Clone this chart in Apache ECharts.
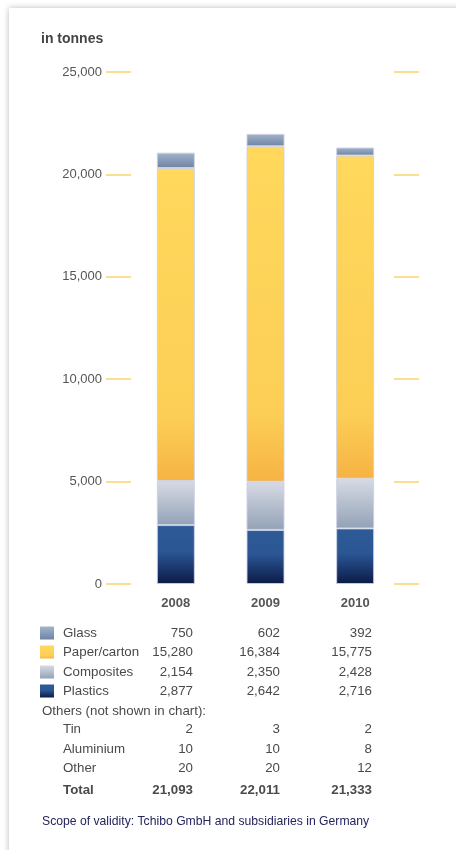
<!DOCTYPE html>
<html>
<head>
<meta charset="utf-8">
<script src="https://cdn.jsdelivr.net/npm/echarts@6/dist/echarts.min.js"></script>
<style>
  html, body { margin: 0; padding: 0; background: #ffffff; overflow: hidden; }
  #card { position: absolute; left: 9px; top: 8px; width: 480px; height: 880px; background: #fff;
          box-shadow: 0 0 6px rgba(0,0,0,0.28); }
  #chart { position: absolute; left: 0; top: 0; width: 456px; height: 850px; }
</style>
</head>
<body>
<div id="card"></div>
<div id="chart"></div>
<script>
// Packaging material volumes, in tonnes
const years = ['2008', '2009', '2010'];
const glass = [750, 602, 392];
const paperCarton = [15280, 16384, 15775];
const composites = [2154, 2350, 2428];
const plastics = [2877, 2642, 2716];
const tin = [2, 3, 2];
const aluminium = [10, 10, 8];
const other = [20, 20, 12];
const totals = [21093, 22011, 21333];
const yTicks = [0, 5000, 10000, 15000, 20000, 25000];
const yTickLabels = ['0', '5,000', '10,000', '15,000', '20,000', '25,000'];

const fmt = v => v.toLocaleString('en-US');
const grad = stops => new echarts.graphic.LinearGradient(0, 0, 0, 1,
  stops.map(s => ({ offset: s[0], color: s[1] })));

const fills = {
  Glass: () => grad([[0, '#A3B4CB'], [1, '#6E84A3']]),
  'Paper/carton': () => grad([[0, '#FFD85C'], [0.8, '#FCCE55'], [1, '#F6B344']]),
  Composites: () => grad([[0, '#D6DAE4'], [0.3, '#C3CAD7'], [1, '#93A2B7']]),
  Plastics: () => grad([[0, '#2E5A98'], [0.45, '#2B5694'], [1, '#0C1A47']])
};

const stackOrder = [
  ['Plastics', plastics],
  ['Composites', composites],
  ['Paper/carton', paperCarton],
  ['Glass', glass]
];

const series = stackOrder.map(([name, data]) => ({
  name, type: 'bar', stack: 'total', barWidth: 38, data,
  itemStyle: { color: fills[name](), borderColor: 'rgba(205,208,228,0.9)', borderWidth: 1 },
  emphasis: { disabled: true }
}));

// Table rows below the chart
const textColor = '#4a4a4a';
const fontFamily = '"Liberation Sans", Arial, sans-serif';
const colRight = [193, 280, 372];
const labelX = 63;
const graphic = [];
function addRow(label, values, y, opts = {}) {
  const font = (opts.bold ? 'bold ' : '') + '13.3px ' + fontFamily;
  graphic.push({ type: 'text', x: opts.labelX || labelX, y: y,
    style: { text: label, fill: textColor, verticalAlign: 'middle', font } });
  if (values) values.forEach((v, i) => {
    graphic.push({ type: 'text', x: colRight[i], y: y,
      style: { text: fmt(v), fill: textColor, align: 'right', verticalAlign: 'middle', font } });
  });
  if (opts.swatch) {
    graphic.push({ type: 'rect', shape: { x: 40, y: y - 6.5, width: 14, height: 13 },
      style: { fill: fills[opts.swatch]() } });
  }
}
const legendRows = [['Glass', glass], ['Paper/carton', paperCarton], ['Composites', composites], ['Plastics', plastics]];
const legendY = [633, 652, 672, 691];
legendRows.forEach(([n, v], i) => addRow(n, v, legendY[i], { swatch: n }));
addRow('Others (not shown in chart):', null, 711, { labelX: 42 });
addRow('Tin', tin, 729);
addRow('Aluminium', aluminium, 749);
addRow('Other', other, 768);
addRow('Total', totals, 790, { bold: true });
graphic.push({ type: 'text', x: 42, y: 822,
  style: { text: 'Scope of validity: Tchibo GmbH and subsidiaries in Germany', fill: '#24245e',
    verticalAlign: 'middle', font: '12.2px ' + fontFamily } });
graphic.push({ type: 'text', x: 41, y: 39,
  style: { text: 'in tonnes', fill: '#444', verticalAlign: 'middle', font: 'bold 14px ' + fontFamily } });

const tickStyle = { show: true, length: 25, lineStyle: { color: '#F9D56C', width: 1.5 } };
const chart = echarts.init(document.getElementById('chart'), null, { renderer: 'canvas' });
chart.setOption({
  animation: false,
  grid: { left: 131, right: 56, top: 72, bottom: 266 },
  xAxis: {
    type: 'category', data: years,
    axisLine: { show: false }, axisTick: { show: false },
    axisLabel: { margin: 13, color: '#555', fontWeight: 'bold', fontSize: 13, fontFamily }
  },
  yAxis: [
    {
      type: 'value', min: yTicks[0], max: yTicks[yTicks.length - 1], interval: yTicks[1] - yTicks[0],
      position: 'left', axisLine: { show: false }, splitLine: { show: false },
      axisTick: tickStyle,
      axisLabel: { margin: 29, color: '#555', fontSize: 13, fontFamily,
        formatter: v => yTickLabels[yTicks.indexOf(v)] }
    },
    {
      type: 'value', min: yTicks[0], max: yTicks[yTicks.length - 1], interval: yTicks[1] - yTicks[0],
      position: 'right', offset: -6, axisLine: { show: false }, splitLine: { show: false },
      axisTick: tickStyle, axisLabel: { show: false }
    }
  ],
  series,
  graphic
});
</script>
</body>
</html>
